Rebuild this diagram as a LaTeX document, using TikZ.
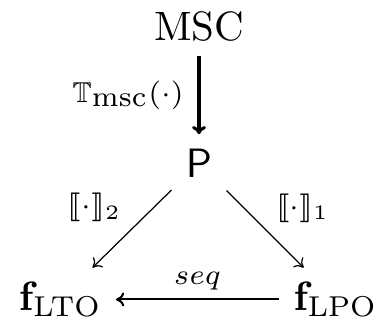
\documentclass[tikz,border=0pt]{standalone}
\usepackage{amsmath,amssymb}
\usepackage{stmaryrd}
\usepackage{tikz}
\usetikzlibrary{arrows.meta,positioning}
\tikzset{maparrow/.style={-{To[length=2pt,width=3.4pt]}}, maplabel/.style={font=\scriptsize}}

\begin{document}
\begin{tikzpicture}
        \useasboundingbox (-1.706,-1.397) rectangle (1.543,1.397);
        \node (msc) at (0,1.17) {MSC};
        \node (p) at (0,0) {$\mathsf{P}$};
        \node (lto) at (-1.19,-1.17) {$\mathbf{f}_{\mathrm{LTO}}$};
        \node (lpo) at (1.17,-1.17) {$\mathbf{f}_{\mathrm{LPO}}$};
        \draw[maparrow, line width=0.75pt] (msc) -- (p) node[midway, left, maplabel] {$\mathbb{T}_{\mbox{msc}}(\cdot)$};
        \draw[maparrow, line width=0.3pt] (p) -- (lto) node[midway, above left, maplabel, inner sep=1.5pt, xshift=-1pt] {$\llbracket\cdot\rrbracket_2$};
        \draw[maparrow, line width=0.3pt] (p) -- (lpo) node[midway, above right, maplabel, inner sep=1.5pt, xshift=1pt] {$\llbracket\cdot\rrbracket_1$};
        \draw[maparrow, line width=0.5pt] (lpo) -- (lto) node[midway, above, maplabel, inner sep=2pt] {$seq$};
      \end{tikzpicture}
\end{document}
